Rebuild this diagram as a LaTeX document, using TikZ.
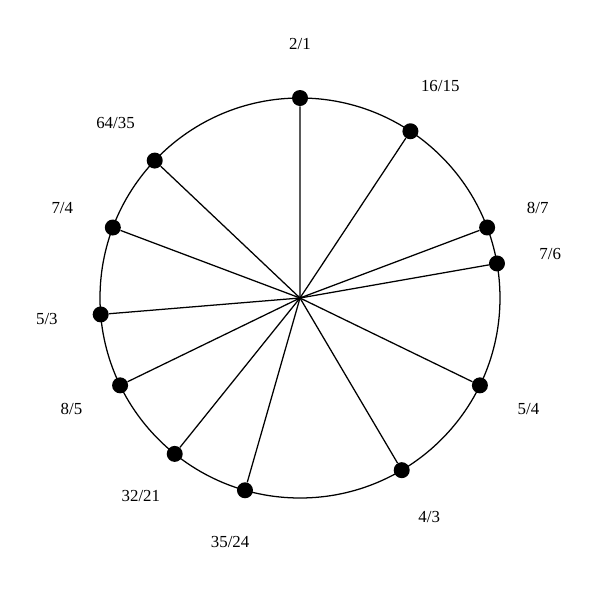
\documentclass[tikz,border=0pt]{standalone}
\usepackage{fontspec}
\setmainfont{Liberation Serif}
\begin{document}
\begin{tikzpicture}[
	dot/.style={circle, fill=black, inner sep=0pt, minimum size=4mm},
	ratio/.style={font=\fontsize{12}{14}\selectfont, inner sep=0pt},
	spoke/.style={black, line width=0.9pt}]
	\useasboundingbox (-7.5,-7.55) rectangle (7.5,7.45);
	
	%Circle
	\coordinate (o) at (0,0);
	\draw[spoke] (o) circle (5);
	
	%Nodes and lines
	\foreach \p/\q [count=\i] in {2/1,16/15,8/7,7/6,5/4,4/3,35/24,32/21,8/5,5/3,7/4,64/35}{
		\pgfmathsetmacro{\ang}{90-360*ln(\p/\q)/ln(2)}
		\node[dot]	(d\i)	at (\ang:5) {};
		\node[ratio]	(l\i)	at (\ang:6.35) {\p/\q};
		\draw[spoke] (o) -- (d\i);
	}
\end{tikzpicture}
\end{document}
